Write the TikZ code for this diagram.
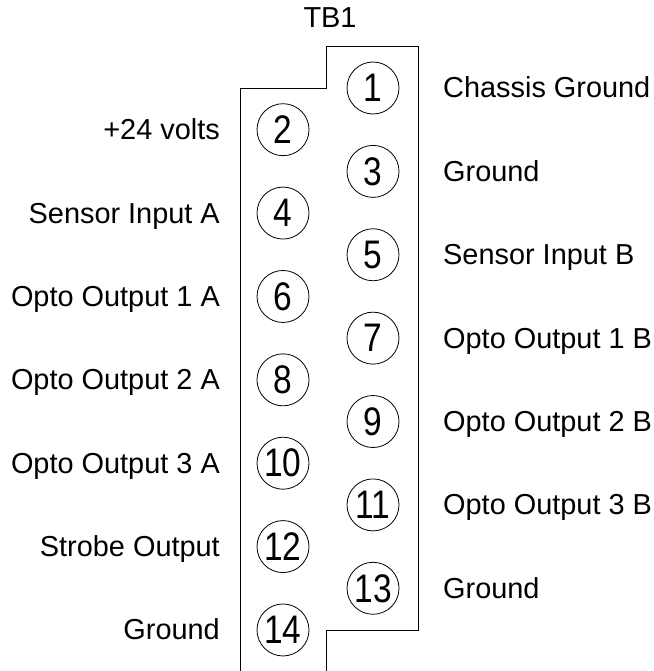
\documentclass[tikz,border=0pt]{standalone}
\usepackage{fontspec}
\setmainfont{Liberation Sans}
\begin{document}
\begin{tikzpicture}[x=1bp,y=-1bp,
  pin/.style={draw,circle,line width=0.8bp,minimum size=52bp,inner sep=0pt,
    font=\fontsize{40}{42}\selectfont},
  lbl/.style={inner sep=0pt,font=\fontsize{29}{32}\selectfont},
  outline/.style={line width=0.8bp}]
\useasboundingbox (0,0) rectangle (654,671);
\draw[outline] (240,671) -- (240,88) -- (326,88) -- (326,46) -- (418,46)
  -- (418,630) -- (326,630) -- (326,671);
\node[lbl,anchor=base] (tb) at (330,28) {TB1};
\foreach \n/\t in {1/Chassis Ground,3/Ground,5/Sensor Input B,7/Opto Output 1 B,
    9/Opto Output 2 B,11/Opto Output 3 B,13/Ground}{
  \pgfmathsetmacro\yy{88+(\n-1)*41.69}
  \node[pin] (p\n) at (373,\yy) {\scalebox{0.84}[1]{\n}};
  \node[lbl,anchor=base west] (l\n) at (443,\yy+10) {\t};
}
\foreach \n/\t in {2/+24 volts,4/Sensor Input A,6/Opto Output 1 A,8/Opto Output 2 A,
    10/Opto Output 3 A,12/Strobe Output,14/Ground}{
  \pgfmathsetmacro\yy{88+(\n-1)*41.69}
  \node[pin] (p\n) at (283,\yy) {\scalebox{0.84}[1]{\n}};
  \node[lbl,anchor=base east] (l\n) at (220,\yy+10) {\t};
}
\end{tikzpicture}
\end{document}
